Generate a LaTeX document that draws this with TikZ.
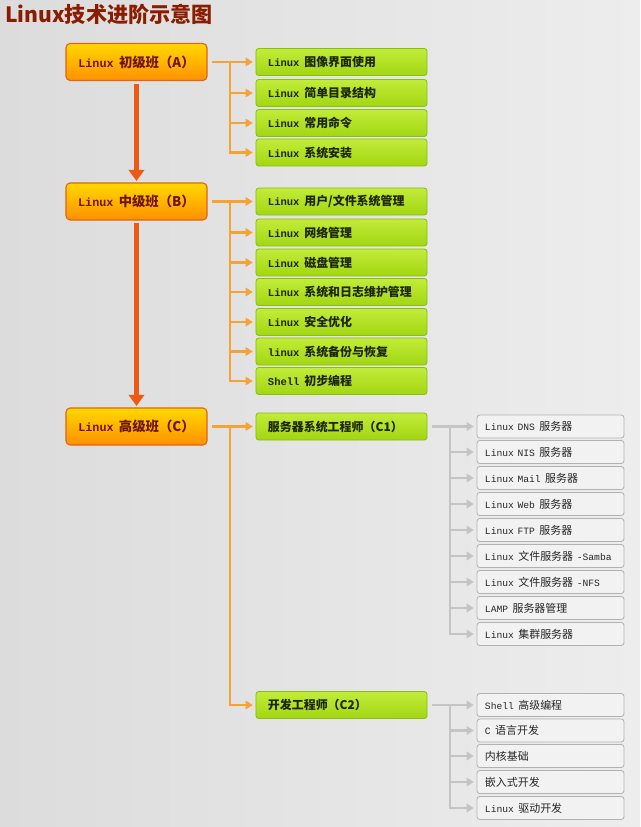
\documentclass[tikz,border=0pt]{standalone}
\usepackage{fontspec}
\usepackage{xcolor}
\usepackage{tikz}
\usetikzlibrary{arrows.meta}
\setmainfont{Noto Sans CJK SC}
\newfontfamily\mono{Liberation Mono}[Scale=0.88]
\definecolor{bgl}{HTML}{DCDCDC}
\definecolor{bgr}{HTML}{EDEDED}
\definecolor{ttl}{HTML}{8A1C00}
\definecolor{otop}{HTML}{FFD800}
\definecolor{obot}{HTML}{FF9000}
\definecolor{oline}{HTML}{E0641A}
\definecolor{otext}{HTML}{6E1400}
\definecolor{gtop}{HTML}{C2EC3A}
\definecolor{gbot}{HTML}{A2D612}
\definecolor{gline}{HTML}{88BE16}
\definecolor{gtext}{HTML}{1E2600}
\definecolor{conn}{HTML}{F5A236}
\definecolor{down}{HTML}{EE5A14}
\definecolor{gconn}{HTML}{C4C4C4}
\definecolor{pbox}{HTML}{F2F2F2}
\definecolor{pline}{HTML}{B2B2B2}
\newcommand\lx[1]{{\mono #1}\hspace{0.4em}}
\tikzset{
  stagebox/.style={rounded corners=3pt, top color=otop, bottom color=obot, draw=oline,
    line width=0.8pt, minimum width=3.525cm, minimum height=0.925cm,
    text=otext, font=\bfseries\fontsize{9.5}{11}\selectfont},
  topic/.style={rounded corners=2pt, top color=gtop, bottom color=gbot, draw=gline,
    line width=0.6pt, minimum height=0.675cm, inner xsep=0.3cm, text width=3.675cm,
    align=left, text=gtext, font=\bfseries\fontsize{8.5}{10}\selectfont},
  leaf/.style={rounded corners=2pt, fill=pbox, draw=pline, line width=0.6pt,
    minimum height=0.575cm, inner xsep=0.2cm, text width=3.275cm,
    align=left, text=black!85, font=\fontsize{7.8}{9}\selectfont},
  branch/.style={draw=conn, line width=2pt, -{Triangle[width=6pt,length=5pt]},
    shorten >=2pt},
  twig/.style={draw=gconn, line width=1.8pt, -{Triangle[width=6pt,length=5pt]},
    shorten >=2pt},
  climb/.style={draw=down, line width=4pt, -{Triangle[width=11pt,length=8pt]},
    shorten <=2pt, shorten >=1pt},
}

\begin{document}
\begin{tikzpicture}[x=0.025cm, y=-0.025cm]
  \shade[left color=bgl, right color=bgr] (0,0) rectangle (640,827);
  \useasboundingbox (0,0) rectangle (640,827);

  \node[anchor=west, inner sep=0pt, text=ttl, font=\bfseries\fontsize{15}{17}\selectfont]
    (title) at (5,14) {Linux技术进阶示意图};

  % the three stages
  \node[stagebox] (a) at (136.5,62)  {\lx{Linux}初级班（A）};
  \node[stagebox] (b) at (136.5,201.5) {\lx{Linux}中级班（B）};
  \node[stagebox] (c) at (136.5,426.5) {\lx{Linux}高级班（C）};

  \draw[climb] (a.south) -- (b.north);
  \draw[climb] (b.south) -- (c.north);

  % stage A
  \node[topic] (a1) at (341.5,62)    {\lx{Linux}图像界面使用};
  \node[topic] (a2) at (341.5,93)    {\lx{Linux}简单目录结构};
  \node[topic] (a3) at (341.5,123)   {\lx{Linux}常用命令};
  \node[topic] (a4) at (341.5,152.5) {\lx{Linux}系统安装};

  \coordinate (ja) at (230,62);
  \draw[branch, shorten <=3pt] (a.east) -- (a1.west);
  \draw[branch] (ja) |- (a2.west);
  \draw[branch] (ja) |- (a3.west);
  \draw[branch] (ja) |- (a4.west);

  % stage B
  \node[topic] (b1) at (341.5,201.5) {\lx{Linux}用户/文件系统管理};
  \node[topic] (b2) at (341.5,232.5) {\lx{Linux}网络管理};
  \node[topic] (b3) at (341.5,262.5) {\lx{Linux}磁盘管理};
  \node[topic] (b4) at (341.5,292)   {\lx{Linux}系统和日志维护管理};
  \node[topic] (b5) at (341.5,322)   {\lx{Linux}安全优化};
  \node[topic] (b6) at (341.5,351.5) {\lx{linux}系统备份与恢复};
  \node[topic] (b7) at (341.5,381)   {\lx{Shell}初步编程};

  \coordinate (jb) at (230,201.5);
  \draw[branch, shorten <=3pt] (b.east) -- (b1.west);
  \draw[branch] (jb) |- (b2.west);
  \draw[branch] (jb) |- (b3.west);
  \draw[branch] (jb) |- (b4.west);
  \draw[branch] (jb) |- (b5.west);
  \draw[branch] (jb) |- (b6.west);
  \draw[branch] (jb) |- (b7.west);

  % stage C
  \node[topic] (c1) at (341.5,426.5) {服务器系统工程师（C1）};
  \node[topic] (c2) at (341.5,705)   {开发工程师（C2）};

  \coordinate (jc) at (230,426.5);
  \draw[branch, shorten <=3pt] (c.east) -- (c1.west);
  \draw[branch] (jc) |- (c2.west);

  % C1 servers
  \node[leaf] (d1) at (550.5,426.5) {\lx{Linux DNS}服务器};
  \node[leaf] (d2) at (550.5,452)   {\lx{Linux NIS}服务器};
  \node[leaf] (d3) at (550.5,478)   {\lx{Linux Mail}服务器};
  \node[leaf] (d4) at (550.5,504)   {\lx{Linux Web}服务器};
  \node[leaf] (d5) at (550.5,530)   {\lx{Linux FTP}服务器};
  \node[leaf] (d6) at (550.5,556)   {\lx{Linux}文件服务器{\mono\ -Samba}};
  \node[leaf] (d7) at (550.5,582)   {\lx{Linux}文件服务器{\mono\ -NFS}};
  \node[leaf] (d8) at (550.5,608)   {\lx{LAMP}服务器管理};
  \node[leaf] (d9) at (550.5,634)   {\lx{Linux}集群服务器};

  \coordinate (jd) at (450,426.5);
  \draw[twig, shorten <=3pt] (c1.east) -- (d1.west);
  \draw[twig] (jd) |- (d2.west);
  \draw[twig] (jd) |- (d3.west);
  \draw[twig] (jd) |- (d4.west);
  \draw[twig] (jd) |- (d5.west);
  \draw[twig] (jd) |- (d6.west);
  \draw[twig] (jd) |- (d7.west);
  \draw[twig] (jd) |- (d8.west);
  \draw[twig] (jd) |- (d9.west);

  % C2 development
  \node[leaf] (e1) at (550.5,705)   {\lx{Shell}高级编程};
  \node[leaf] (e2) at (550.5,730.5) {\lx{C}语言开发};
  \node[leaf] (e3) at (550.5,756)   {内核基础};
  \node[leaf] (e4) at (550.5,782)   {嵌入式开发};
  \node[leaf] (e5) at (550.5,808)   {\lx{Linux}驱动开发};

  \coordinate (je) at (450,705);
  \draw[twig, shorten <=3pt] (c2.east) -- (e1.west);
  \draw[twig] (je) |- (e2.west);
  \draw[twig] (je) |- (e3.west);
  \draw[twig] (je) |- (e4.west);
  \draw[twig] (je) |- (e5.west);
\end{tikzpicture}
\end{document}
